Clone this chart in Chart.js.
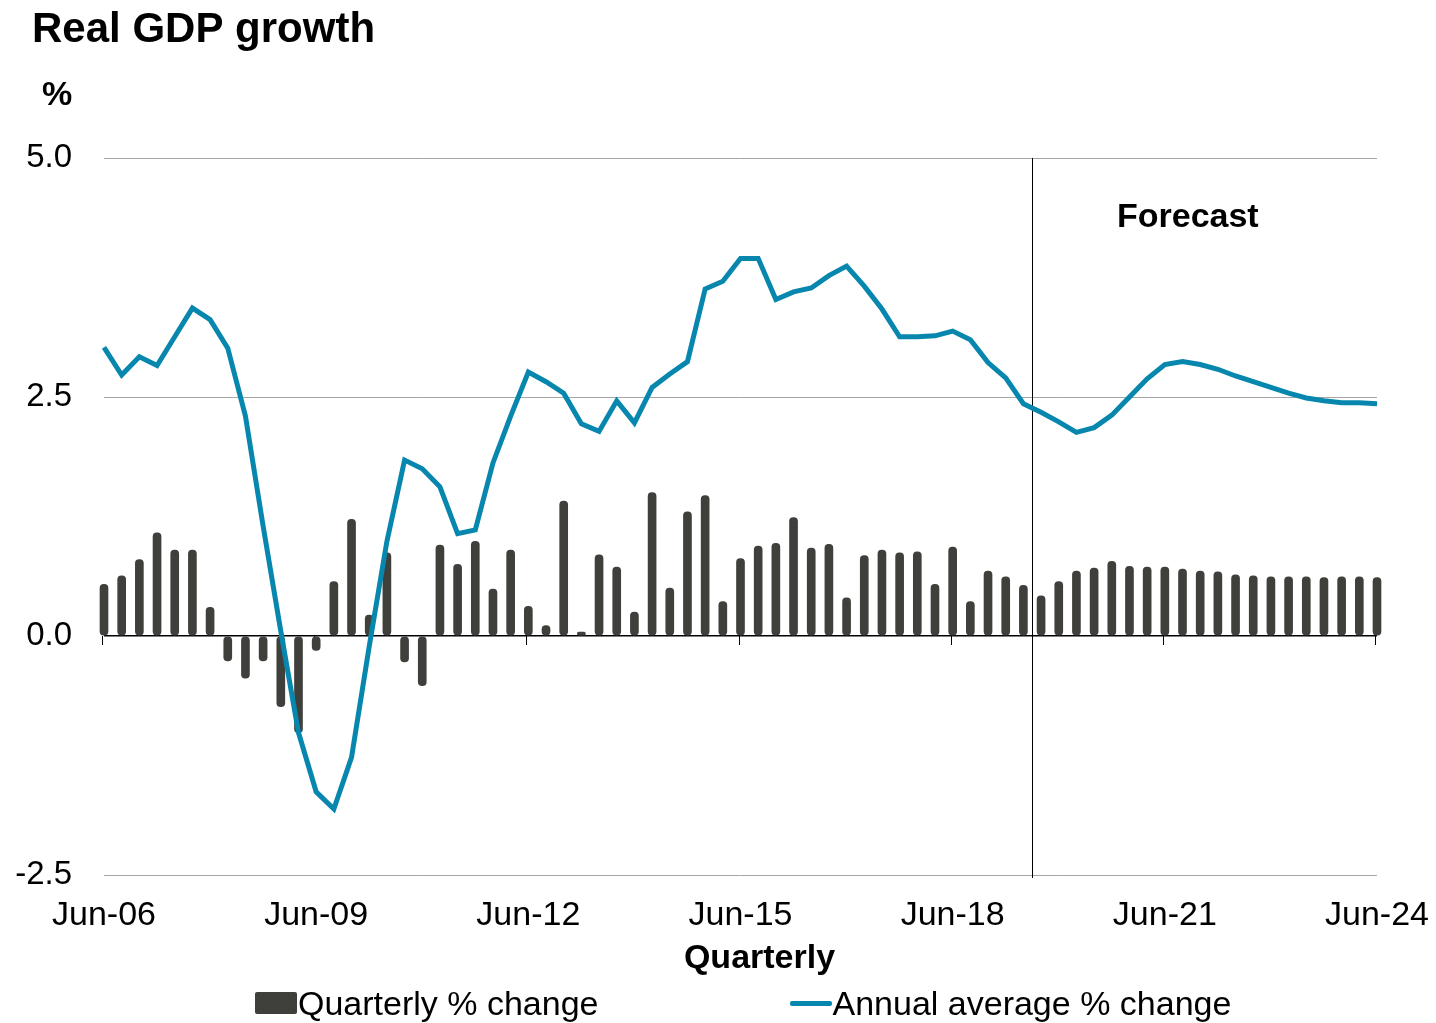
<!DOCTYPE html>
<html>
<head>
<meta charset="utf-8">
<title>Real GDP growth</title>
<script src="https://cdn.jsdelivr.net/npm/chart.js@4.4.1/dist/chart.umd.min.js"></script>
<style>
  html, body { margin: 0; padding: 0; background: #fff; overflow: hidden; }
  #wrap { position: relative; width: 1436px; height: 1023px; font-family: "Liberation Sans", Arial, sans-serif; }
  #legend { position: absolute; left: 255px; top: 983px; display: flex; gap: 191px; font-size: 34px; color: #000; line-height: 40px; }
  #legend .item { display: flex; align-items: center; white-space: nowrap; }
  #legend .swatch { width: 42px; margin-right: 1px; }
</style>
</head>
<body>
<div id="wrap">
  <canvas id="gdp"></canvas>
  <div id="legend"></div>
</div>
<script>
// quarters Jun-06 .. Jun-24
const firstYear = 2006, lastYear = 2024;
const quarters = [];
for (let yr = firstYear; yr <= lastYear; yr++) {
  for (const m of ['Mar', 'Jun', 'Sep', 'Dec']) {
    if (yr === firstYear && m === 'Mar') continue;
    if (yr === lastYear && m !== 'Mar' && m !== 'Jun') continue;
    quarters.push(m + '-' + String(yr).slice(2));
  }
}
const xTickLabels = ['Jun-06', 'Jun-09', 'Jun-12', 'Jun-15', 'Jun-18', 'Jun-21', 'Jun-24'];
const yTicks = [-2.5, 0, 2.5, 5];

const quarterlyChange = [
  0.54, 0.63, 0.80, 1.08, 0.90, 0.90, 0.30, -0.26, -0.44, -0.26,
  -0.74, -1.01, -0.15, 0.57, 1.22, 0.22, 0.87, -0.27, -0.52, 0.95,
  0.75, 0.99, 0.49, 0.90, 0.31, 0.11, 1.41, 0.04, 0.85, 0.72,
  0.25, 1.50, 0.50, 1.30, 1.47, 0.36, 0.81, 0.94, 0.97, 1.24,
  0.92, 0.96, 0.40, 0.84, 0.90, 0.87, 0.88, 0.54, 0.93, 0.36,
  0.68, 0.62, 0.53, 0.42, 0.57, 0.68, 0.71, 0.78, 0.73, 0.72,
  0.72, 0.70, 0.68, 0.67, 0.64, 0.63, 0.62, 0.62, 0.62, 0.61,
  0.62, 0.62, 0.61
];
const annualAverage = [
  3.02, 2.73, 2.92, 2.83, 3.13, 3.43, 3.31, 3.01, 2.30, 1.15,
  0.05, -1.01, -1.63, -1.81, -1.27, -0.11, 0.99, 1.84, 1.75, 1.56,
  1.07, 1.11, 1.81, 2.30, 2.76, 2.66, 2.54, 2.22, 2.14, 2.46,
  2.23, 2.60, 2.74, 2.87, 3.63, 3.71, 3.95, 3.95, 3.52, 3.60,
  3.64, 3.77, 3.87, 3.66, 3.42, 3.13, 3.13, 3.14, 3.19, 3.10,
  2.86, 2.70, 2.43, 2.34, 2.24, 2.13, 2.18, 2.31, 2.50, 2.69,
  2.84, 2.87, 2.84, 2.79, 2.72, 2.66, 2.60, 2.54, 2.49, 2.46,
  2.44, 2.44, 2.43
];
const forecastStart = 'Sep-19';   // divider sits just before this quarter

const FONT = '"Liberation Sans", Arial, sans-serif';
const BAR = '#3f403b';
const LINE = '#0887ae';

// zero axis ticks, forecast divider and free text
const extras = {
  id: 'extras',
  beforeDatasetsDraw(chart) {
    const { ctx, chartArea: a, scales: { x, y } } = chart;
    const y0 = y.getPixelForValue(0);
    ctx.save();
    ctx.strokeStyle = '#000';
    ctx.lineWidth = 1;
    quarters.forEach((q, i) => {
      if (!xTickLabels.includes(q)) return;
      const px = Math.round(x.getPixelForValue(i)) - 1.5;
      ctx.beginPath(); ctx.moveTo(px, y0); ctx.lineTo(px, y0 + 9); ctx.stroke();
    });
    const fx = Math.round(x.getPixelForValue(quarters.indexOf(forecastStart) - 0.5)) + 0.5;
    ctx.beginPath(); ctx.moveTo(fx, a.top); ctx.lineTo(fx, a.bottom + 3); ctx.stroke();
    ctx.restore();
  },
  afterDraw(chart) {
    const { ctx, chartArea: a, scales: { x, y } } = chart;
    ctx.save();
    ctx.fillStyle = '#000';
    ctx.textBaseline = 'alphabetic';
    ctx.font = 'bold 42px ' + FONT;
    ctx.fillText('Real GDP growth', 32, 42);
    ctx.font = 'bold 34px ' + FONT;
    ctx.fillText('%', 42, 105);
    ctx.textAlign = 'center';
    ctx.textBaseline = 'middle';
    ctx.fillText('Forecast', x.getPixelForValue(61.3), y.getPixelForValue(4.38));
    // axis title sits a little right of the plot centre
    ctx.fillText('Quarterly', (a.left + a.right) / 2 + 19, a.bottom + 84);
    ctx.restore();
  }
};

const chart = new Chart(document.getElementById('gdp'), {
  type: 'bar',
  data: {
    labels: quarters,
    datasets: [
      {
        type: 'line',
        label: 'Annual average % change',
        data: annualAverage,
        borderColor: LINE,
        backgroundColor: LINE,
        borderWidth: 5,
        pointRadius: 0,
        tension: 0,
        clip: false,
        order: 0
      },
      {
        type: 'bar',
        label: 'Quarterly % change',
        data: quarterlyChange,
        backgroundColor: BAR,
        barThickness: 8,
        borderRadius: 4,
        borderSkipped: false,
        clip: false,
        order: 1
      }
    ]
  },
  options: {
    responsive: true,
    maintainAspectRatio: false,
    animation: false,
    layout: { padding: { top: 158, left: 14, right: 59, bottom: 43 } },
    plugins: {
      legend: { display: false },
      tooltip: { enabled: false }
    },
    scales: {
      x: {
        offset: false,
        grid: { display: false, drawTicks: false },
        border: { display: false },
        afterFit: s => { s.height = 105; s.paddingLeft = 0; s.paddingRight = 0; },
        ticks: {
          autoSkip: false,
          maxRotation: 0,
          padding: 20,
          color: '#000',
          font: { family: FONT, size: 34 },
          callback: (v, i) => xTickLabels.includes(quarters[i]) ? quarters[i] : ''
        }
      },
      y: {
        min: -2.5,
        max: 5,
        afterBuildTicks: s => { s.ticks = yTicks.map(v => ({ value: v })); },
        afterFit: s => { s.width = 90; },
        grid: {
          drawTicks: false,
          color: c => c.tick && c.tick.value === 0 ? '#000' : '#a6a6a6',
          lineWidth: c => c.tick && c.tick.value === 0 ? 1.5 : 1
        },
        border: { display: false },
        ticks: {
          padding: 32,
          color: '#000',
          font: { family: FONT, size: 33 },
          callback: v => v.toFixed(1)
        }
      }
    }
  },
  plugins: [extras]
});

// legend below the plot, same order as the series are read
const legend = document.getElementById('legend');
[chart.data.datasets[1], chart.data.datasets[0]].forEach(ds => {
  const item = document.createElement('div');
  item.className = 'item';
  const sw = document.createElement('span');
  sw.className = 'swatch';
  if (ds.type === 'bar') {
    sw.style.height = '22px';
    sw.style.background = ds.backgroundColor;
    sw.style.borderRadius = '2px';
  } else {
    sw.style.height = '5px';
    sw.style.background = ds.borderColor;
    sw.style.borderRadius = '2px';
  }
  item.appendChild(sw);
  item.appendChild(document.createTextNode(ds.label));
  legend.appendChild(item);
});
</script>
</body>
</html>
